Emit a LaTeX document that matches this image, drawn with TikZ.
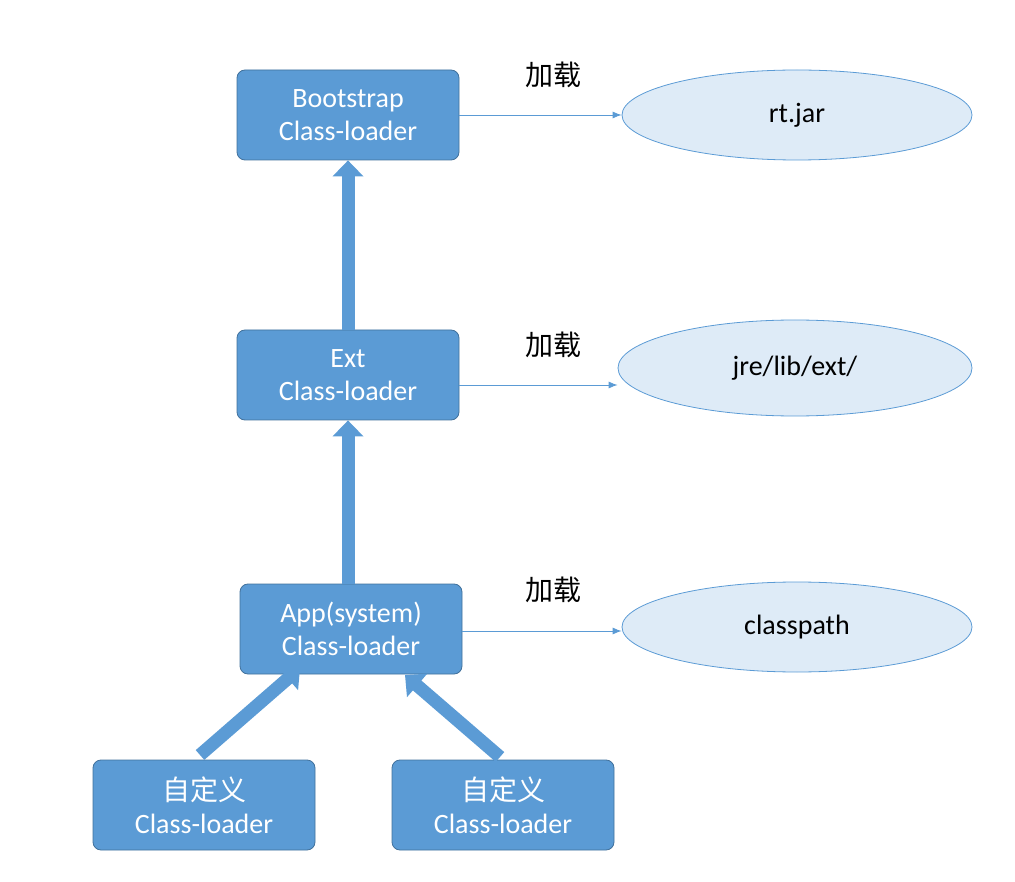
\documentclass[tikz,border=0pt]{standalone}
\usepackage{fontspec}
\setmainfont{Carlito}
\newfontfamily\cjk{Noto Sans CJK SC}
\usetikzlibrary{arrows.meta,shapes.geometric}
\definecolor{boxfill}{HTML}{5B9BD5}
\definecolor{boxline}{HTML}{41719C}
\definecolor{ellfill}{HTML}{DEEBF7}
\begin{document}
\begin{tikzpicture}[x=1pt,y=-1pt,
  box/.style={draw=boxline,fill=boxfill,rounded corners=8pt,minimum width=222pt,minimum height=90pt,text=white,font=\fontsize{28}{33}\selectfont,align=center,line width=0.8pt},
  ell/.style={ellipse,draw=boxfill,fill=ellfill,minimum width=350pt,minimum height=90pt,font=\fontsize{28}{33}\selectfont,line width=0.8pt},
  lbl/.style={font=\cjk\fontsize{28}{33}\selectfont},
  thin/.style={draw=boxfill,-{Latex[length=9pt,width=7pt]},line width=0.8pt},
  thick/.style={draw=boxfill,line width=13pt,-{Triangle[length=16pt,width=30pt]}}]
\useasboundingbox (0,0) rectangle (1015,882);
\node[box] (boot) at (348,115) {Bootstrap\\Class-loader};
\node[box] (ext) at (348,375) {Ext\\Class-loader};
\node[box] (app) at (351,629) {App(system)\\Class-loader};
\node[box] (c1) at (204,805) {{\cjk 自定义}\\Class-loader};
\node[box] (c2) at (503,805) {{\cjk 自定义}\\Class-loader};
\node[ell] (rt) at (797,115) {rt.jar};
\node[ell,minimum height=96pt,minimum width=354pt] (jre) at (795,368) {jre/lib/ext/};
\node[ell] (cp) at (797,627) {classpath};
\node[lbl] (l1) at (553,75) {加载};
\node[lbl] (l2) at (553,345) {加载};
\node[lbl] (l3) at (553,590) {加载};
\draw[thin] (boot.east) -- (rt.west);
\draw[thin] (ext.east |- 0,385) -- (jre.west |- 0,385);
\draw[thin] (app.east |- 0,631) -- (cp.west |- 0,631);
\draw[thick] (ext.north) -- (boot.south);
\draw[thick] (app.north -| ext.north) -- (ext.south);
\coordinate (a1) at (300,668);
\coordinate (a2) at (405,675);
\draw[thick] (200,755) -- (a1);
\draw[thick] (500,757) -- (a2);
\end{tikzpicture}
\end{document}
